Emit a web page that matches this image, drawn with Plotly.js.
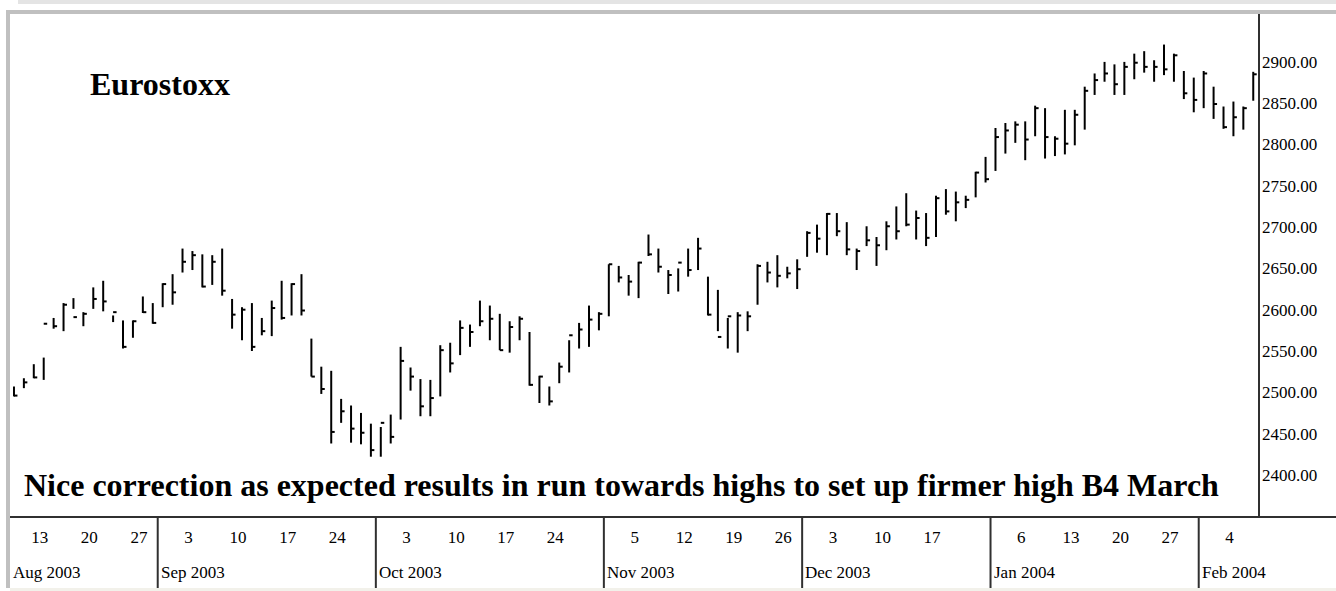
<!DOCTYPE html>
<html>
<head>
<meta charset="utf-8">
<script src="https://cdn.plot.ly/plotly-3.0.1.min.js"></script>
<style>
  html, body { margin: 0; padding: 0; background: #fff; }
  #c1 { width: 1336px; height: 591px; }
</style>
</head>
<body>
<div id="c1"></div>
<script>
var dates = [
	'2003-08-11','2003-08-12','2003-08-13','2003-08-14','2003-08-15','2003-08-18','2003-08-19','2003-08-20','2003-08-21','2003-08-22',
	'2003-08-25','2003-08-26','2003-08-27','2003-08-28','2003-08-29','2003-09-01','2003-09-02','2003-09-03','2003-09-04','2003-09-05',
	'2003-09-08','2003-09-09','2003-09-10','2003-09-11','2003-09-12','2003-09-15','2003-09-16','2003-09-17','2003-09-18','2003-09-19',
	'2003-09-22','2003-09-23','2003-09-24','2003-09-25','2003-09-26','2003-09-29','2003-09-30','2003-10-01','2003-10-02','2003-10-03',
	'2003-10-06','2003-10-07','2003-10-08','2003-10-09','2003-10-10','2003-10-13','2003-10-14','2003-10-15','2003-10-16','2003-10-17',
	'2003-10-20','2003-10-21','2003-10-22','2003-10-23','2003-10-24','2003-10-27','2003-10-28','2003-10-29','2003-10-30','2003-10-31',
	'2003-11-03','2003-11-04','2003-11-05','2003-11-06','2003-11-07','2003-11-10','2003-11-11','2003-11-12','2003-11-13','2003-11-14',
	'2003-11-17','2003-11-18','2003-11-19','2003-11-20','2003-11-21','2003-11-24','2003-11-25','2003-11-26','2003-11-27','2003-11-28',
	'2003-12-01','2003-12-02','2003-12-03','2003-12-04','2003-12-05','2003-12-08','2003-12-09','2003-12-10','2003-12-11','2003-12-12',
	'2003-12-15','2003-12-16','2003-12-17','2003-12-18','2003-12-19','2003-12-22','2003-12-23','2003-12-29','2003-12-30','2004-01-02',
	'2004-01-05','2004-01-06','2004-01-07','2004-01-08','2004-01-09','2004-01-12','2004-01-13','2004-01-14','2004-01-15','2004-01-16',
	'2004-01-19','2004-01-20','2004-01-21','2004-01-22','2004-01-23','2004-01-26','2004-01-27','2004-01-28','2004-01-29','2004-01-30',
	'2004-02-02','2004-02-03','2004-02-04','2004-02-05','2004-02-06','2004-02-09'
];

var high = [
	2507,2517,2534,2542,2590,2608,2614,2597,2627,2635,
	2593,2587,2587,2616,2608,2632,2643,2674,2671,2667,
	2666,2674,2613,2603,2608,2590,2611,2635,2632,2643,
	2565,2531,2526,2492,2484,2475,2462,2458,2473,2555,
	2530,2516,2515,2557,2560,2587,2582,2611,2605,2595,
	2586,2592,2573,2520,2507,2536,2563,2584,2605,2597,
	2655,2653,2642,2658,2691,2674,2648,2650,2674,2687,
	2640,2624,2590,2597,2598,2655,2658,2666,2652,2661,
	2695,2703,2717,2717,2706,2674,2701,2688,2707,2725,
	2741,2720,2717,2738,2746,2743,2738,2767,2785,2820,
	2826,2828,2828,2847,2844,2810,2842,2842,2870,2886,
	2900,2897,2900,2910,2913,2902,2921,2910,2889,2881,
	2889,2870,2846,2852,2846,2888
];

var low = [
	2495,2505,2517,2515,2577,2574,2601,2580,2601,2598,
	2585,2553,2566,2596,2583,2603,2606,2645,2648,2627,
	2630,2617,2577,2563,2550,2569,2568,2588,2593,2593,
	2519,2498,2438,2463,2439,2437,2422,2422,2438,2467,
	2502,2471,2471,2495,2524,2545,2555,2580,2563,2551,
	2548,2563,2508,2487,2484,2511,2524,2553,2555,2575,
	2592,2633,2617,2614,2665,2645,2619,2622,2640,2648,
	2593,2574,2553,2548,2574,2606,2633,2627,2638,2625,
	2664,2669,2666,2689,2666,2648,2677,2653,2672,2685,
	2701,2685,2677,2688,2715,2707,2723,2736,2754,2768,
	2789,2802,2781,2810,2783,2786,2788,2799,2818,2860,
	2876,2860,2860,2879,2887,2876,2884,2876,2855,2839,
	2844,2831,2819,2810,2818,2853
];

var close = [
	2496,2512,2518,2583,2580,2606,2591,2595,2613,2610,
	2597,2555,2586,2597,2584,2631,2621,2658,2666,2628,
	2658,2623,2594,2600,2555,2574,2602,2590,2631,2599,
	2519,2504,2452,2477,2456,2451,2430,2463,2446,2538,
	2519,2483,2493,2551,2535,2578,2573,2586,2589,2551,
	2579,2589,2509,2519,2489,2531,2569,2576,2588,2595,
	2655,2639,2634,2657,2667,2652,2642,2657,2648,2674,
	2594,2567,2592,2593,2592,2653,2645,2641,2644,2649,
	2693,2686,2716,2695,2673,2671,2684,2678,2701,2695,
	2703,2711,2687,2735,2719,2730,2733,2766,2758,2809,
	2817,2824,2806,2844,2809,2807,2801,2836,2865,2878,
	2886,2873,2894,2899,2894,2894,2891,2908,2862,2854,
	2886,2849,2821,2833,2844,2885
];

var dayTickDates = ['2003-08-13','2003-08-20','2003-08-27','2003-09-03','2003-09-10','2003-09-17','2003-09-24',
	'2003-10-03','2003-10-10','2003-10-17','2003-10-24','2003-11-05','2003-11-12','2003-11-19','2003-11-26',
	'2003-12-03','2003-12-10','2003-12-17','2004-01-06','2004-01-13','2004-01-20','2004-01-27','2004-02-04'];
var dayTickText = ['13','20','27','3','10','17','24','3','10','17','24','5','12','19','26','3','10','17','6','13','20','27','4'];

var monthKeys = ['2003-08','2003-09','2003-10','2003-11','2003-12','2004-01','2004-02'];
var monthText = ['Aug 2003','Sep 2003','Oct 2003','Nov 2003','Dec 2003','Jan 2004','Feb 2004'];

var priceTicks = [2400,2450,2500,2550,2600,2650,2700,2750,2800,2850,2900];

var title = 'Eurostoxx';
var note = 'Nice correction as expected results in run towards highs to set up firmer high B4 March';

// HLC bars: vertical low-high line, close tick to the right
var bx = [], by = [];
for (var i = 0; i < dates.length; i++) {
	bx.push(i, i, null, i, i + 0.35, null);
	by.push(low[i], high[i], null, close[i], close[i], null);
}

var tickIdx = [];
for (var i = 0; i < dayTickDates.length; i++) {
	tickIdx.push(dates.indexOf(dayTickDates[i]));
}

var serif = 'Liberation Serif, Times New Roman, serif';
var shapes = [];
var annotations = [];

// frame
shapes.push({type: 'rect', xref: 'paper', yref: 'paper', x0: 0.0064, x1: 1.062, y0: 1.0199, y1: 1.03, fillcolor: '#e4e4e4', line: {width: 0}, layer: 'below'});
shapes.push({type: 'rect', xref: 'paper', yref: 'paper', x0: -0.0032, x1: 1.062, y0: 1.0, y1: 1.008, fillcolor: '#c0c0c0', line: {width: 0}});
shapes.push({type: 'rect', xref: 'paper', yref: 'paper', x0: -0.0032, x1: 0, y0: -0.1412, y1: 1.008, fillcolor: '#c0c0c0', line: {width: 0}});
shapes.push({type: 'rect', xref: 'paper', yref: 'paper', x0: 0, x1: 1.062, y0: -0.15, y1: -0.1412, fillcolor: '#f2f1ea', line: {width: 0}});
shapes.push({type: 'line', xref: 'paper', yref: 'paper', x0: 1, x1: 1, y0: 0, y1: 1, line: {color: '#303030', width: 2}});
shapes.push({type: 'line', xref: 'paper', yref: 'paper', x0: 0, x1: 1.062, y0: 0, y1: 0, line: {color: '#303030', width: 2}});

for (var m = 0; m < monthKeys.length; m++) {
	var first = -1;
	for (var i = 0; i < dates.length; i++) {
		if (dates[i].substr(0, 7) == monthKeys[m]) { first = i; break; }
	}
	var sx = first - 0.5;
	if (m > 0) {
		shapes.push({type: 'line', xref: 'x', yref: 'paper', x0: sx, x1: sx, y0: -0.1412, y1: 0, line: {color: '#303030', width: 2}});
	} else {
		sx = -0.38;
	}
	annotations.push({
		xref: 'x', yref: 'paper', x: sx, y: -0.11, xanchor: 'left', yanchor: 'middle',
		xshift: 1, text: monthText[m], showarrow: false,
		font: {family: serif, size: 17, color: '#000'}
	});
}

annotations.push({
	xref: 'paper', yref: 'paper', x: 0.0625, y: 0.861, xanchor: 'left', yanchor: 'middle',
	text: '<b>' + title + '</b>', showarrow: false,
	font: {family: serif, size: 32, color: '#000'}
});
annotations.push({
	xref: 'paper', yref: 'paper', x: 0.0096, y: 0.0636, xanchor: 'left', yanchor: 'middle',
	text: '<b>' + note + '</b>', showarrow: false,
	font: {family: serif, size: 32, color: '#000'}
});

var trace1 = {
	x: bx,
	y: by,
	mode: 'lines',
	type: 'scatter',
	line: {color: '#000', width: 2},
	connectgaps: false,
	hoverinfo: 'skip'
};

var layout = {
	width: 1336,
	height: 591,
	margin: {l: 10, r: 77, t: 14, b: 74, pad: 0},
	paper_bgcolor: '#fff',
	plot_bgcolor: '#fff',
	showlegend: false,
	xaxis: {
		range: [-0.4, 125.58],
		tickvals: tickIdx,
		ticktext: dayTickText,
		ticks: '',
		showgrid: false,
		zeroline: false,
		showline: false,
		ticklabelshift: 6,
		ticklabelstandoff: 8,
		tickfont: {family: serif, size: 17, color: '#000'}
	},
	yaxis: {
		side: 'right',
		range: [2349, 2958],
		tickvals: priceTicks,
		tickformat: '.2f',
		ticks: '',
		showgrid: false,
		zeroline: false,
		showline: false,
		ticklabelstandoff: 2,
		tickfont: {family: serif, size: 17, color: '#000'}
	},
	shapes: shapes,
	annotations: annotations
};

Plotly.newPlot('c1', [trace1], layout, {displayModeBar: false, staticPlot: true});
</script>
</body>
</html>
